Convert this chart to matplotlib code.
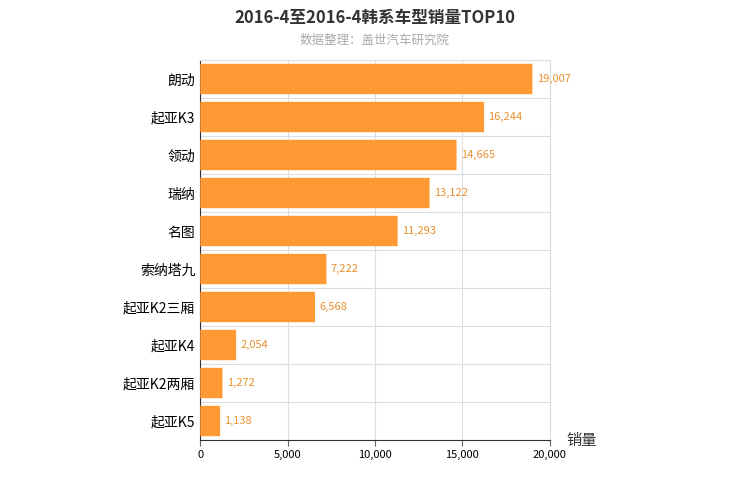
import matplotlib
matplotlib.use("Agg")
import matplotlib.pyplot as plt
from matplotlib.patches import FancyBboxPatch

plt.rcParams["font.family"] = ["Noto Sans CJK SC", "DejaVu Sans"]

models = ["朗动", "起亚K3", "领动", "瑞纳", "名图", "索纳塔九", "起亚K2三厢", "起亚K4", "起亚K2两厢", "起亚K5"]
sales = [19007, 16244, 14665, 13122, 11293, 7222, 6568, 2054, 1272, 1138]
xticks = [0, 5000, 10000, 15000, 20000]

fig = plt.figure(figsize=(7.5, 5), dpi=100)
ax = fig.add_axes([0.267, 0.12, 0.466, 0.76])

n = len(models)
ypos = list(range(n))[::-1]
color = "#FF9933"
for y, v in zip(ypos, sales):
    p = FancyBboxPatch((0, y - 0.4), v, 0.8,
                       boxstyle="round,pad=0,rounding_size=0.2",
                       mutation_aspect=1 / 1500, fc=color, ec="none", zorder=3)
    ax.add_patch(p)
    ax.text(v + 250, y, f"{v:,}", va="center", ha="left", fontsize=8, color="#E8912E", zorder=4)

ax.set_xlim(0, 20000)
ax.set_ylim(-0.5, n - 0.5)
ax.set_yticks(ypos)
ax.set_yticklabels(models, fontsize=10)
ax.set_xticks(xticks)
ax.set_xticklabels([f"{t:,}" for t in xticks], fontsize=8)
ax.set_yticks([i + 0.5 for i in range(n - 1)], minor=True)
ax.grid(axis="x", color="#dddddd", lw=0.8, zorder=0)
ax.grid(axis="y", which="minor", color="#dddddd", lw=0.8, zorder=0)
ax.tick_params(axis="y", which="both", length=0)
ax.tick_params(axis="x", length=4, color="#666666")
for s in ["top", "right"]:
    ax.spines[s].set_color("#dddddd")
ax.spines["left"].set_color("#333333")
ax.spines["bottom"].set_color("#333333")

fig.text(0.5, 0.965, "2016-4至2016-4韩系车型销量TOP10", ha="center", va="center",
         fontsize=12, fontweight="bold", color="#333333")
fig.text(0.5, 0.92, "数据整理：盖世汽车研究院", ha="center", va="center",
         fontsize=9, color="#aaaaaa")
fig.text(0.755, 0.12, "销量", ha="left", va="center", fontsize=11, color="#333333")

fig.savefig("out.png", dpi=100)
